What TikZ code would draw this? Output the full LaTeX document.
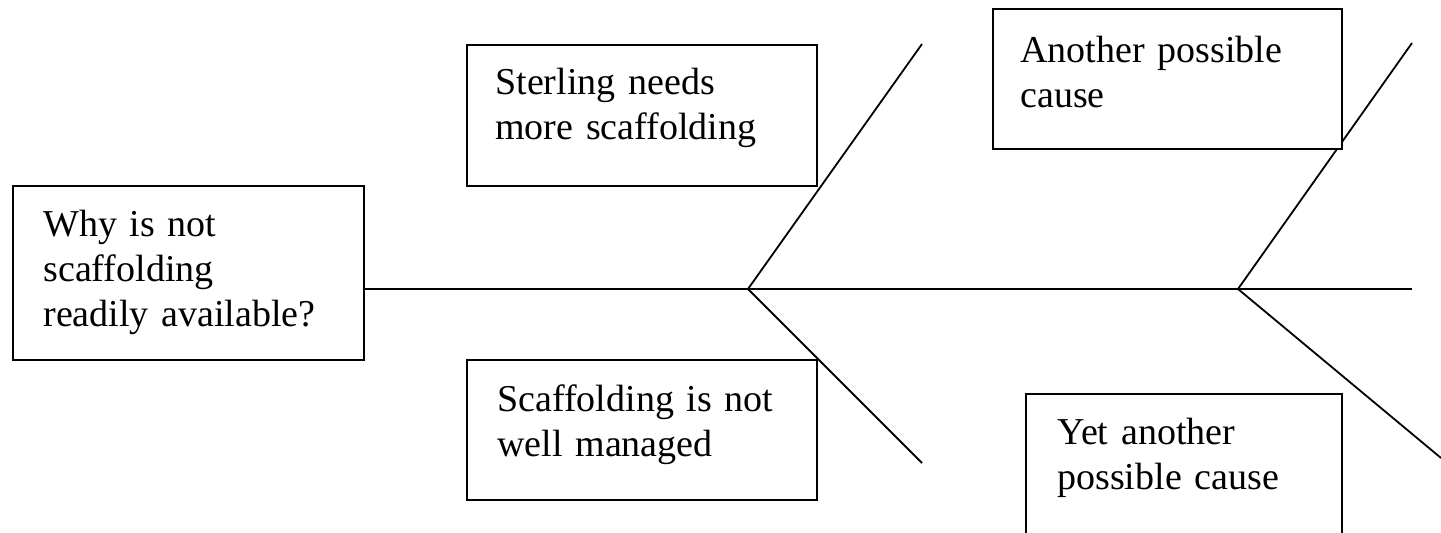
\documentclass[tikz,border=0pt]{standalone}
\usepackage{fontspec}
\setmainfont{Liberation Serif}
\usetikzlibrary{calc}
\begin{document}
\begin{tikzpicture}[x=0.5pt,y=-0.5pt,
  causebox/.style={draw=black, fill=white, line width=0.9pt, anchor=north west,
    inner sep=0pt, minimum width=#1},
  boxtext/.style={anchor=base west, inner sep=0pt, text width=200pt, align=left,
    font=\fontsize{19pt}{22.5pt}\selectfont},
  bone/.style={draw=black, line width=0.9pt}]
  \useasboundingbox (0,0) rectangle (1441,533);
  \clip (0,0) rectangle (1441,533);

  % spine and branch points
  \coordinate (j1) at (748,289);
  \coordinate (j2) at (1238,289);
  \coordinate (tail) at (1412,289);
  \coordinate (t1) at (922,44);
  \coordinate (b1) at (922,463);
  \coordinate (t2) at (1412,43);
  \coordinate (b2) at (1441,458);

  % effect box
  \node[causebox=175.5pt, minimum height=87pt] (q) at (12,185) {};
  \node[boxtext] (qt) at ($(q.north west)+(31,52)$)
    {Why is not\\scaffolding\\readily available?};

  % bones
  \draw[bone] (q.east |- j1) -- (tail);
  \draw[bone] (t1) -- (j1) -- (b1);
  \draw[bone] (t2) -- (j2) -- (b2);

  % cause boxes
  \node[causebox=175pt, minimum height=70.5pt] (c1) at (466,44) {};
  \node[boxtext] (c1t) at ($(c1.north west)+(29,51)$)
    {Sterling needs\\more scaffolding};

  \node[causebox=175pt, minimum height=70pt] (c2) at (466,359) {};
  \node[boxtext] (c2t) at ($(c2.north west)+(31,53)$)
    {Scaffolding is not\\well managed};

  \node[causebox=174.5pt, minimum height=70pt] (c3) at (992,8) {};
  \node[boxtext] (c3t) at ($(c3.north west)+(28,55)$)
    {Another possible\\cause};

  \node[causebox=158pt, minimum height=90pt] (c4) at (1025,393) {};
  \node[boxtext] (c4t) at ($(c4.north west)+(32,52)$)
    {Yet another\\possible cause};
\end{tikzpicture}
\end{document}
